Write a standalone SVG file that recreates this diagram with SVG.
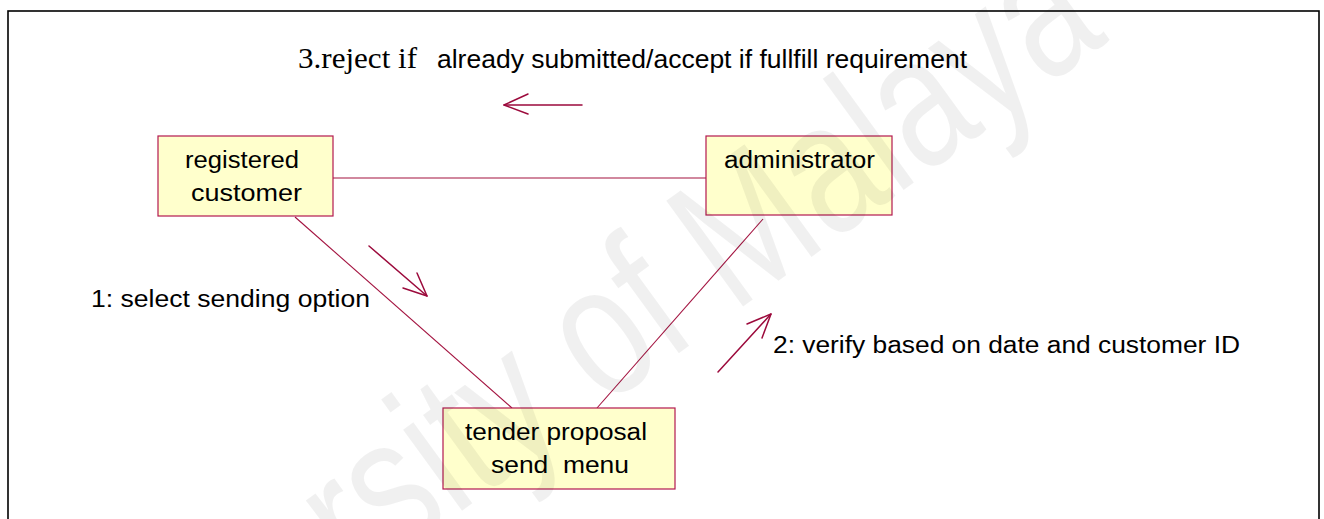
<svg xmlns="http://www.w3.org/2000/svg" width="1324" height="519" viewBox="0 0 1324 519">
  <style>
    .frame { fill: #ffffff; stroke: #000000; stroke-width: 1.6; }
    .node rect { fill: #ffffcc; stroke: #b3184f; stroke-width: 1.2; }
    .label { font-family: "Liberation Sans", Arial, sans-serif; font-size: 23px; fill: #000000; }
    .serif { font-family: "Liberation Serif", "Times New Roman", serif; font-size: 30px; fill: #000000; }
    .link { stroke: #a3123f; stroke-width: 1.1; fill: none; }
    .msg { stroke: #9c0a3c; stroke-width: 1.5; fill: none; stroke-linecap: round; stroke-linejoin: round; }
    .wm { font-family: "Liberation Sans", Arial, sans-serif; font-size: 190px; fill: #000000; fill-opacity: 0.06; }
  </style>

  <rect class="frame" x="8" y="11" width="1311" height="530"/>

  <!-- associations between objects -->
  <g id="connectors">
    <line class="link" x1="333" y1="178" x2="706" y2="178"/>
    <line class="link" x1="295" y1="217" x2="512" y2="408"/>
    <line class="link" x1="763" y1="219" x2="597" y2="408"/>

    <!-- message arrows -->
    <g id="msg1">
      <line class="msg" x1="369" y1="246" x2="427" y2="296"/>
      <polyline class="msg" points="417,273 427,296 403,288"/>
    </g>
    <g id="msg2">
      <line class="msg" x1="718" y1="372" x2="771" y2="314"/>
      <polyline class="msg" points="747,324 771,314 762,338"/>
    </g>
    <g id="msg3">
      <line class="msg" x1="582" y1="105" x2="504" y2="105"/>
      <polyline class="msg" points="528,94 504,105 528,114"/>
    </g>
  </g>

  <!-- objects -->
  <g id="registered-customer" class="node">
    <rect x="158" y="136" width="175" height="80"/>
    <text class="label" x="185" y="168" textLength="114" lengthAdjust="spacingAndGlyphs">registered</text>
    <text class="label" x="191" y="201" textLength="111" lengthAdjust="spacingAndGlyphs">customer</text>
  </g>

  <g id="administrator" class="node">
    <rect x="706" y="136" width="186" height="79"/>
    <text class="label" x="724" y="168" textLength="151" lengthAdjust="spacingAndGlyphs">administrator</text>
  </g>

  <g id="tender-proposal-send-menu" class="node">
    <rect x="443" y="408" width="232" height="81"/>
    <text class="label" x="465" y="440" textLength="182" lengthAdjust="spacingAndGlyphs">tender proposal</text>
    <text class="label" x="491" y="473" textLength="138" lengthAdjust="spacingAndGlyphs" xml:space="preserve">send  menu</text>
  </g>

  <!-- message labels -->
  <g id="labels">
    <text class="serif" x="298" y="68" textLength="119" lengthAdjust="spacingAndGlyphs">3.reject if</text>
    <text class="label" style="font-size:25px" x="437" y="68" textLength="530" lengthAdjust="spacingAndGlyphs">already submitted/accept if fullfill requirement</text>
    <text class="label" x="91" y="307" textLength="279" lengthAdjust="spacingAndGlyphs">1: select sending option</text>
    <text class="label" x="773" y="353" textLength="467" lengthAdjust="spacingAndGlyphs">2: verify based on date and customer ID</text>
  </g>

  <!-- faint background mark -->
  <text class="wm" transform="translate(1110,40) rotate(-36)" text-anchor="end" textLength="1300" lengthAdjust="spacingAndGlyphs">University of Malaya</text>
</svg>
